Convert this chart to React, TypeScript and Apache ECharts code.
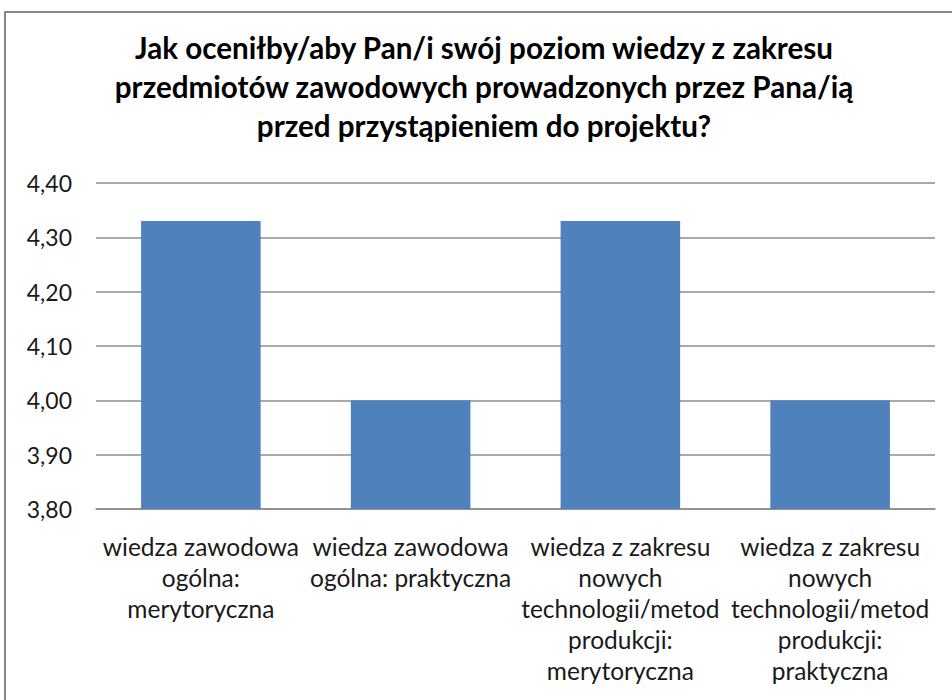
import React, { useEffect, useRef } from "react";
import * as echarts from "echarts";

const titleLines = [
  "Jak oceniłby/aby Pan/i swój poziom wiedzy z zakresu",
  "przedmiotów zawodowych prowadzonych przez Pana/ią",
  "przed przystąpieniem do projektu?",
];

const categories = [
  "wiedza zawodowa\nogólna:\nmerytoryczna",
  "wiedza zawodowa\nogólna: praktyczna",
  "wiedza z zakresu\nnowych\ntechnologii/metod\nprodukcji:\nmerytoryczna",
  "wiedza z zakresu\nnowych\ntechnologii/metod\nprodukcji:\npraktyczna",
];

const values = [4.33, 4.0, 4.33, 4.0];

const yMin = 3.8;
const yMax = 4.4;
const yInterval = 0.1;

const FONT = "Lato, 'Noto Sans', sans-serif";

export default function App() {
  const ref = useRef<HTMLDivElement>(null);

  useEffect(() => {
    if (!ref.current) return;
    const chart = echarts.init(ref.current, null, { renderer: "svg" });
    chart.setOption({
      animation: false,
      backgroundColor: "#ffffff",
      title: {
        text: titleLines.join("\n"),
        left: 479,
        textAlign: "center",
        top: 23,
        textStyle: {
          fontFamily: FONT,
          fontSize: 29.6,
          fontWeight: "bold",
          color: "#000000",
          lineHeight: 39,
        },
      },
      graphic: [
        {
          type: "rect",
          shape: { x: 5, y: 12, width: 960, height: 700 },
          style: { fill: "none", stroke: "#868686", lineWidth: 2 },
          silent: true,
        },
      ],
      grid: { left: 96, right: 17, top: 183, bottom: 191, containLabel: false },
      xAxis: {
        type: "category",
        data: categories,
        axisLine: { show: true, lineStyle: { color: "#8c8c8c", width: 1.5 } },
        axisTick: { show: false },
        axisLabel: {
          interval: 0,
          margin: 22,
          fontFamily: FONT,
          fontSize: 24.5,
          lineHeight: 31,
          color: "#1a1a1a",
          align: "center",
        },
      },
      yAxis: {
        type: "value",
        min: yMin,
        max: yMax,
        interval: yInterval,
        axisLine: { show: false },
        axisTick: { show: false },
        splitLine: { lineStyle: { color: "#8c8c8c", width: 1.5 } },
        axisLabel: {
          margin: 24,
          fontFamily: FONT,
          fontSize: 23,
          color: "#1a1a1a",
          formatter: (v: number) => v.toFixed(2).replace(".", ","),
        },
      },
      series: [
        {
          type: "bar",
          data: values,
          barWidth: "57%",
          itemStyle: { color: "#4F81BD" },
        },
      ],
    });
    return () => chart.dispose();
  }, []);

  return (
    <div
      ref={ref}
      style={{ position: "fixed", left: 0, top: 0, width: 952, height: 700 }}
    />
  );
}
